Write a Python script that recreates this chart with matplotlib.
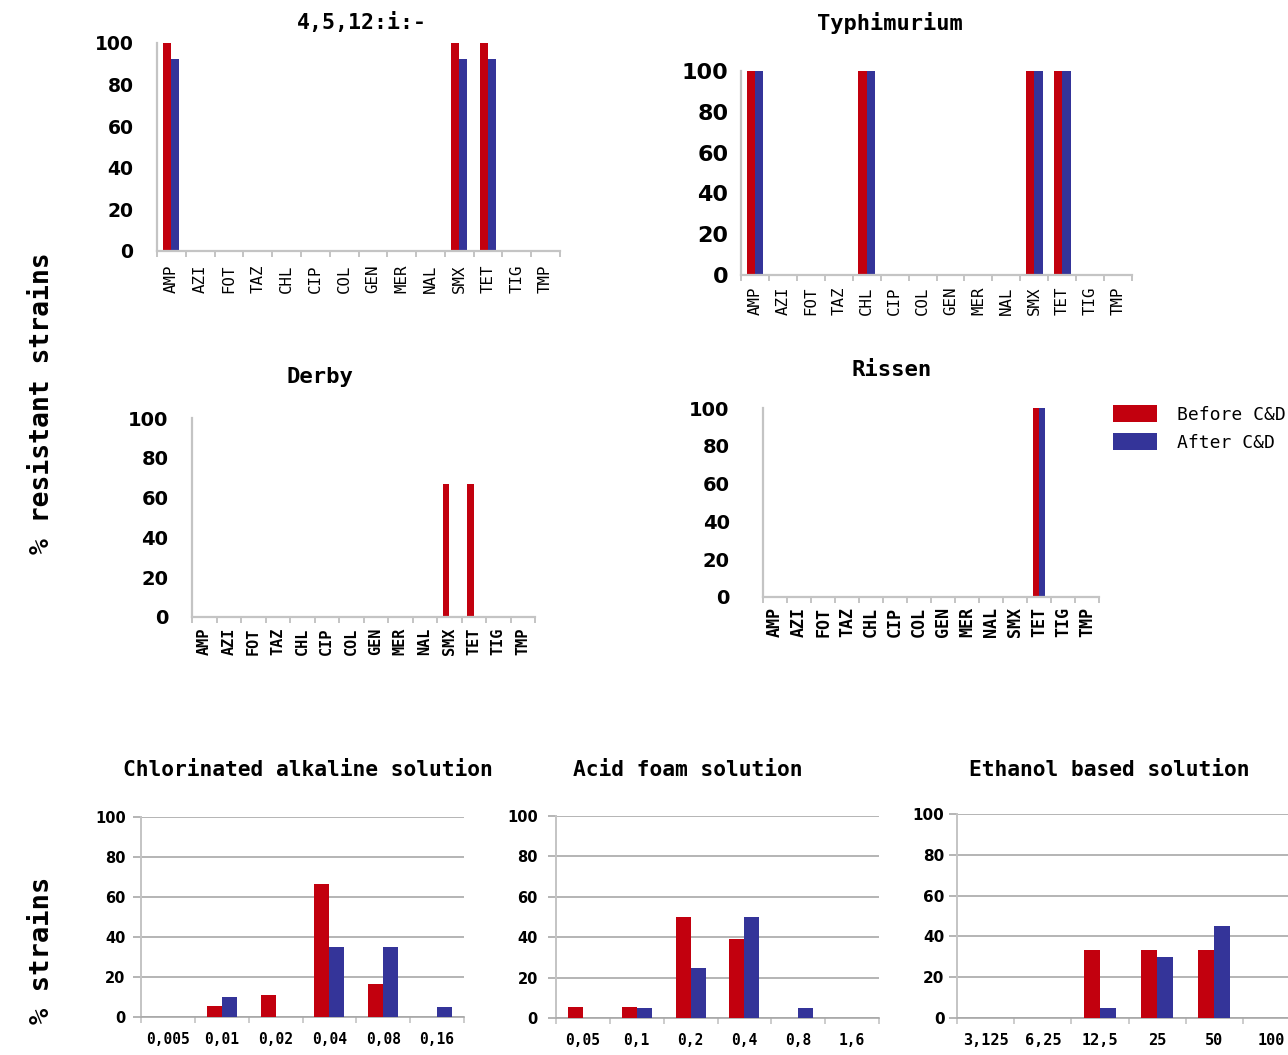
import numpy as np
import matplotlib
matplotlib.use("Agg")
import matplotlib.pyplot as plt
from matplotlib.patches import Patch

# ---------------- data ----------------
drugs = ['AMP', 'AZI', 'FOT', 'TAZ', 'CHL', 'CIP', 'COL', 'GEN', 'MER', 'NAL', 'SMX', 'TET', 'TIG', 'TMP']

mono_before = [100, 0, 0, 0, 0, 0, 0, 0, 0, 0, 100, 100, 0, 0]
mono_after = [92.3, 0, 0, 0, 0, 0, 0, 0, 0, 0, 92.3, 92.3, 0, 0]

typh_before = [100, 0, 0, 0, 100, 0, 0, 0, 0, 0, 100, 100, 0, 0]
typh_after = [100, 0, 0, 0, 100, 0, 0, 0, 0, 0, 100, 100, 0, 0]

derby_before = [0, 0, 0, 0, 0, 0, 0, 0, 0, 0, 66.7, 66.7, 0, 0]
derby_after = [0, 0, 0, 0, 0, 0, 0, 0, 0, 0, 0, 0, 0, 0]

rissen_before = [0, 0, 0, 0, 0, 0, 0, 0, 0, 0, 0, 100, 0, 0]
rissen_after = [0, 0, 0, 0, 0, 0, 0, 0, 0, 0, 0, 100, 0, 0]

chl_conc = ['0,005', '0,01', '0,02', '0,04', '0,08', '0,16']
chl_before = [0, 5.6, 11.1, 66.7, 16.7, 0]
chl_after = [0, 10, 0, 35, 35, 5]

acid_conc = ['0,05', '0,1', '0,2', '0,4', '0,8', '1,6']
acid_before = [5.6, 5.6, 50, 38.9, 0, 0]
acid_after = [0, 5, 25, 50, 5, 0]

eth_conc = ['3,125', '6,25', '12,5', '25', '50', '100']
eth_before = [0, 0, 33.3, 33.3, 33.3, 0]
eth_after = [0, 0, 5, 30, 45, 0]

series_names = ['Before C&D', 'After C&D']

# ---------------- style ----------------
RED = '#C2000E'
BLUE = '#343499'
AXC = '#C4C4C4'
GRIDC = '#A8A8A8'
MONO = 'DejaVu Sans Mono'
SANS = 'DejaVu Sans'

W, H = 1288, 1055
fig = plt.figure(figsize=(W / 100, H / 100), dpi=100)
fig.patch.set_facecolor('white')


def px_axes(l, r, t, b):
    return fig.add_axes([l / W, 1 - b / H, (r - l) / W, (b - t) / H])


def top_panel(box, before, after, w, xweight, xfs, xpad, ypad, yfs=13):
    ax = px_axes(*box)
    x = np.arange(len(drugs))
    ax.bar(x - w / 2, before, w, color=RED, linewidth=0)
    ax.bar(x + w / 2, after, w, color=BLUE, linewidth=0)
    ax.set_xlim(-0.5, len(drugs) - 0.5)
    ax.set_ylim(0, 100)
    for s in ['top', 'right']:
        ax.spines[s].set_visible(False)
    for s in ['left', 'bottom']:
        ax.spines[s].set_color(AXC)
        ax.spines[s].set_linewidth(1.6)
    ax.set_xticks(x)
    ax.set_xticklabels(drugs, rotation=90, family=MONO, fontsize=xfs, fontweight=xweight)
    ax.set_xticks(np.arange(-0.5, len(drugs), 1), minor=True)
    ax.tick_params(axis='x', which='major', length=0, pad=xpad)
    ax.tick_params(axis='x', which='minor', length=4, width=1.4, color=AXC)
    ax.set_yticks(range(0, 101, 20))
    ax.set_yticklabels([str(v) for v in range(0, 101, 20)], family=SANS,
                       fontweight='bold', fontsize=yfs)
    ax.tick_params(axis='y', length=0, pad=ypad)
    return ax


def bottom_panel(box, cats, before, after, ypad, yfs=10.5, xfs=10.5):
    ax = px_axes(*box)
    x = np.arange(len(cats))
    w = 0.28
    ax.bar(x - w / 2, before, w, color=RED, linewidth=0, zorder=3)
    ax.bar(x + w / 2, after, w, color=BLUE, linewidth=0, zorder=3)
    ax.set_xlim(-0.5, len(cats) - 0.5)
    ax.set_ylim(0, 100)
    ax.set_yticks(range(0, 101, 20))
    ax.set_yticklabels([str(v) for v in range(0, 101, 20)], family=SANS,
                       fontweight='bold', fontsize=yfs)
    ax.yaxis.grid(True, color=GRIDC, linewidth=1.2, zorder=0)
    ax.set_axisbelow(True)
    for s in ['top', 'right']:
        ax.spines[s].set_visible(False)
    ax.spines['left'].set_color(AXC)
    ax.spines['left'].set_linewidth(1.4)
    ax.spines['bottom'].set_color(GRIDC)
    ax.spines['bottom'].set_linewidth(1.2)
    ax.tick_params(axis='y', length=6, width=1.2, color=GRIDC, pad=ypad)
    ax.set_xticks(x)
    ax.set_xticklabels(cats, family=MONO, fontweight='bold', fontsize=xfs)
    ax.set_xticks(np.arange(-0.5, len(cats), 1), minor=True)
    ax.tick_params(axis='x', which='major', length=0, pad=11)
    ax.tick_params(axis='x', which='minor', length=4, width=1.2, color=AXC)
    return ax


# ---------------- top panels ----------------
top_panel((157, 560, 43, 251), mono_before, mono_after, 0.28, 'normal', 11.3, 10, 17, yfs=13.5)
top_panel((741, 1132, 71, 275), typh_before, typh_after, 0.30, 'normal', 11.3, 8.5, 9, yfs=16)
top_panel((192, 535, 418, 617), derby_before, derby_after, 0.27, 'bold', 11, 8, 17, yfs=14)
ax4 = top_panel((763, 1099, 408, 597), rissen_before, rissen_after, 0.25, 'bold', 12, 7, 24, yfs=14)

# legend
handles = [Patch(facecolor=RED, edgecolor='none'), Patch(facecolor=BLUE, edgecolor='none')]
fig.legend(handles, series_names, loc='upper left',
           bbox_to_anchor=(1113 / W, 1 - 405 / H), frameon=False,
           prop={'family': MONO, 'size': 13}, handlelength=2.45, handleheight=1.05,
           handletextpad=1.1, labelspacing=0.55, borderpad=0, borderaxespad=0)

# ---------------- bottom panels ----------------
bottom_panel((141, 464, 817, 1017), chl_conc, chl_before, chl_after, 5)
bottom_panel((556, 879, 816, 1018), acid_conc, acid_before, acid_after, 7)
bottom_panel((957, 1300, 814, 1018), eth_conc, eth_before, eth_after, 3, yfs=11, xfs=11)

# ---------------- titles ----------------
def ftext(xp, yp, s, size, **kw):
    fig.text(xp / W, 1 - yp / H, s, ha='center', va='center', family=MONO,
             fontweight='bold', fontsize=size, **kw)

ftext(362, 23, '4,5,12:i:-', 15.5)
ftext(890, 23, 'Typhimurium', 15.8)
ftext(320, 377, 'Derby', 16)
ftext(892, 370, 'Rissen', 16)
ftext(308, 770, 'Chlorinated alkaline solution', 15.3)
ftext(688, 770, 'Acid foam solution', 15.3)
ftext(1109, 770, 'Ethanol based solution', 15.3)

ftext(42, 403, '% resistant strains', 19, rotation=90)
ftext(42, 950, '% strains', 19.5, rotation=90)

fig.savefig('out.png', dpi=100, facecolor='white')
